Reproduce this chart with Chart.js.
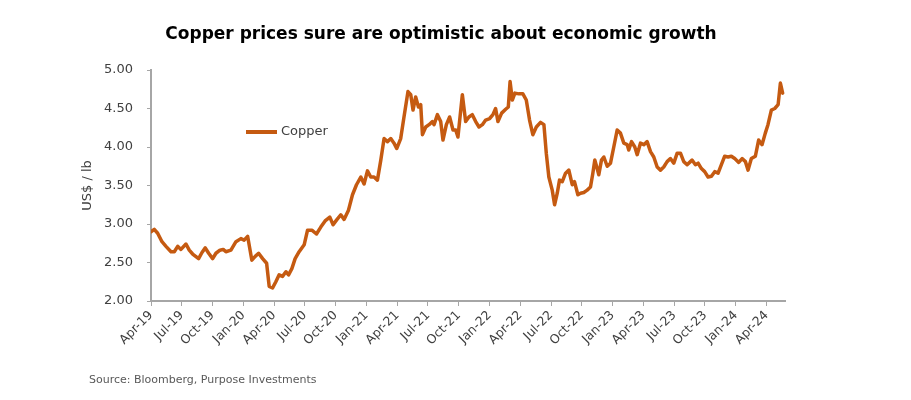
<!DOCTYPE html>
<html lang="en">
<head>
    <meta charset="UTF-8">
    <title>Copper prices</title>
    <script src="https://cdn.jsdelivr.net/npm/chart.js"></script>
    <style>
        body {
            margin: 0;
            padding: 0;
            background: #fff;
        }
        .wrap {
            width: 911px;
            height: 400px;
            position: relative;
        }
    </style>
</head>
<body>
    <div class="wrap">
        <canvas id="copperChart" width="911" height="400"></canvas>
    </div>

    <script>
        // x position in months since Apr-19
        var months = [
            0.00, 0.32, 0.65, 1.07, 1.46, 1.95, 2.27, 2.60, 2.92, 3.41, 3.73, 4.06, 4.64, 4.97, 5.29, 5.62,
            6.01, 6.33, 6.72, 7.04, 7.30, 7.79, 8.28, 8.76, 9.08, 9.42, 9.83, 10.16, 10.49, 10.88, 11.27, 11.52,
            11.85, 12.17, 12.49, 12.82, 13.15, 13.41, 13.73, 14.05, 14.44, 14.93, 15.26, 15.68, 16.13, 16.55, 16.97, 17.43,
            17.75, 18.08, 18.50, 18.82, 19.25, 19.64, 20.03, 20.45, 20.77, 21.10, 21.42, 21.74, 22.07, 22.40, 22.72, 23.05,
            23.37, 23.69, 23.95, 24.34, 24.66, 25.05, 25.32, 25.54, 25.80, 26.07, 26.29, 26.46, 26.78, 27.10, 27.43, 27.59,
            27.92, 28.24, 28.46, 28.79, 29.11, 29.44, 29.70, 29.92, 30.35, 30.67, 30.99, 31.32, 31.65, 31.97, 32.30, 32.62,
            33.01, 33.33, 33.59, 33.82, 34.18, 34.57, 34.83, 35.00, 35.22, 35.47, 35.86, 36.25, 36.58, 36.90, 37.22, 37.56,
            37.97, 38.30, 38.53, 38.78, 39.11, 39.34, 39.60, 39.82, 40.09, 40.41, 40.73, 41.06, 41.28, 41.61, 41.87, 42.19,
            42.52, 42.84, 43.07, 43.26, 43.49, 43.65, 43.91, 44.14, 44.47, 44.79, 45.11, 45.44, 45.76, 46.09, 46.42, 46.57,
            46.84, 47.16, 47.39, 47.71, 48.04, 48.36, 48.69, 49.01, 49.34, 49.66, 49.98, 50.31, 50.63, 50.96, 51.29, 51.61,
            51.93, 52.26, 52.58, 52.74, 53.07, 53.33, 53.65, 53.97, 54.30, 54.63, 54.95, 55.28, 55.60, 55.92, 56.25, 56.57,
            56.90, 57.29, 57.62, 57.94, 58.20, 58.52, 58.91, 59.23, 59.56, 59.88, 60.14, 60.47, 60.80, 61.13, 61.35, 61.57
        ];

        // US$ / lb
        var copper = [
            2.90, 2.93, 2.88, 2.77, 2.71, 2.64, 2.64, 2.71, 2.67, 2.74, 2.66, 2.61, 2.55, 2.63, 2.69, 2.62,
            2.55, 2.62, 2.66, 2.67, 2.64, 2.66, 2.77, 2.81, 2.79, 2.84, 2.53, 2.58, 2.62, 2.55, 2.49, 2.19,
            2.17, 2.25, 2.34, 2.32, 2.38, 2.34, 2.42, 2.55, 2.64, 2.73, 2.92, 2.92, 2.87, 2.96, 3.04, 3.09,
            2.99, 3.05, 3.12, 3.06, 3.18, 3.38, 3.51, 3.61, 3.52, 3.69, 3.61, 3.61, 3.57, 3.83, 4.11, 4.07,
            4.11, 4.05, 3.98, 4.11, 4.39, 4.72, 4.68, 4.48, 4.65, 4.52, 4.55, 4.16, 4.26, 4.29, 4.33, 4.29,
            4.42, 4.33, 4.09, 4.29, 4.39, 4.22, 4.22, 4.13, 4.68, 4.33, 4.39, 4.42, 4.33, 4.26, 4.29, 4.35,
            4.37, 4.42, 4.50, 4.33, 4.44, 4.49, 4.52, 4.85, 4.61, 4.70, 4.69, 4.69, 4.61, 4.35, 4.16, 4.26,
            4.32, 4.29, 3.92, 3.61, 3.44, 3.25, 3.40, 3.57, 3.55, 3.66, 3.70, 3.51, 3.55, 3.38, 3.40, 3.41,
            3.44, 3.48, 3.66, 3.83, 3.72, 3.64, 3.83, 3.87, 3.75, 3.79, 4.00, 4.22, 4.18, 4.05, 4.03, 3.96,
            4.07, 4.00, 3.90, 4.05, 4.03, 4.07, 3.94, 3.87, 3.74, 3.70, 3.74, 3.81, 3.85, 3.79, 3.92, 3.92,
            3.81, 3.77, 3.81, 3.83, 3.77, 3.79, 3.72, 3.68, 3.61, 3.62, 3.68, 3.66, 3.77, 3.88, 3.87, 3.88,
            3.85, 3.80, 3.85, 3.81, 3.70, 3.85, 3.88, 4.09, 4.03, 4.18, 4.29, 4.48, 4.50, 4.55, 4.83, 4.70
        ];

        var tickMonths = [0, 3, 6, 9, 12, 15, 18, 21, 24, 27, 30, 33, 36, 39, 42, 45, 48, 51, 54, 57, 60];
        var tickLabels = ['Apr-19', 'Jul-19', 'Oct-19', 'Jan-20', 'Apr-20', 'Jul-20', 'Oct-20', 'Jan-21', 'Apr-21',
            'Jul-21', 'Oct-21', 'Jan-22', 'Apr-22', 'Jul-22', 'Oct-22', 'Jan-23', 'Apr-23', 'Jul-23', 'Oct-23',
            'Jan-24', 'Apr-24'];

        var lineColor = '#C55A11';
        var axisColor = '#A6A6A6';
        var textColor = '#404040';
        var fontFamily = "'DejaVu Sans', sans-serif";

        // title, in-plot legend and the source note
        var extrasPlugin = {
            id: 'extras',
            afterDraw: function(chart) {
                var ctx = chart.ctx;
                var area = chart.chartArea;
                ctx.save();
                ctx.fillStyle = '#000';
                ctx.font = "bold 17px " + fontFamily;
                ctx.textAlign = 'center';
                ctx.textBaseline = 'middle';
                ctx.fillText('Copper prices sure are optimistic about economic growth', 441, 35);

                ctx.textAlign = 'left';
                ctx.strokeStyle = lineColor;
                ctx.lineWidth = 4;
                ctx.beginPath();
                ctx.moveTo(area.left + 95, area.top + 62);
                ctx.lineTo(area.left + 126, area.top + 62);
                ctx.stroke();
                ctx.fillStyle = textColor;
                ctx.font = "13px " + fontFamily;
                ctx.fillText('Copper', area.left + 130, area.top + 62);

                ctx.fillStyle = '#595959';
                ctx.font = "11px " + fontFamily;
                ctx.fillText('Source: Bloomberg, Purpose Investments', 89, 380);
                ctx.restore();
            }
        };

        var points = months.map(function(m, i) {
            return { x: m, y: copper[i] };
        });

        var copperChart = new Chart(document.getElementById('copperChart').getContext('2d'), {
            type: 'line',
            data: {
                datasets: [{
                    label: 'Copper',
                    data: points,
                    borderColor: lineColor,
                    borderWidth: 3.5,
                    pointRadius: 0,
                    tension: 0,
                    borderJoinStyle: 'round',
                    borderCapStyle: 'round'
                }]
            },
            options: {
                responsive: false,
                animation: false,
                layout: {
                    padding: { left: 78, right: 126, top: 70, bottom: 0 }
                },
                plugins: {
                    legend: { display: false },
                    tooltip: { enabled: false },
                    title: { display: false }
                },
                scales: {
                    x: {
                        type: 'linear',
                        min: 0,
                        max: 61.8,
                        afterBuildTicks: function(scale) {
                            scale.ticks = tickMonths.map(function(v) { return { value: v }; });
                        },
                        afterFit: function(scale) {
                            scale.height = 99;
                        },
                        ticks: {
                            autoSkip: false,
                            minRotation: 45,
                            maxRotation: 45,
                            color: textColor,
                            font: { family: fontFamily, size: 12.5 },
                            padding: 2,
                            callback: function(value) {
                                var i = tickMonths.indexOf(value);
                                return i >= 0 ? tickLabels[i] : '';
                            }
                        },
                        grid: {
                            display: true,
                            drawOnChartArea: false,
                            drawTicks: true,
                            tickLength: 5,
                            color: axisColor
                        },
                        border: { color: axisColor, width: 2 }
                    },
                    y: {
                        min: 2,
                        max: 5,
                        afterFit: function(scale) {
                            scale.width = 73;
                        },
                        ticks: {
                            stepSize: 0.5,
                            color: textColor,
                            font: { family: fontFamily, size: 13 },
                            padding: 14,
                            callback: function(value) {
                                return value.toFixed(2);
                            }
                        },
                        title: {
                            display: true,
                            text: 'US$ / lb',
                            color: textColor,
                            font: { family: fontFamily, size: 13 },
                            padding: 2
                        },
                        grid: {
                            display: true,
                            drawOnChartArea: false,
                            drawTicks: true,
                            tickLength: 4,
                            color: axisColor
                        },
                        border: { color: axisColor, width: 2 }
                    }
                }
            },
            plugins: [extrasPlugin]
        });
    </script>
</body>
</html>
